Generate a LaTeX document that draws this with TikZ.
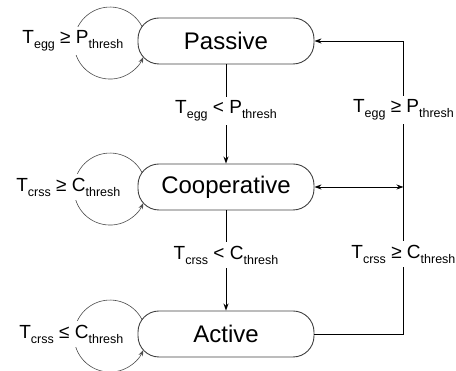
\documentclass[tikz,border=0pt]{standalone}
\usepackage{fontspec}
\setmainfont{Liberation Sans}
\usetikzlibrary{positioning,calc,arrows.meta}
\newcommand{\lo}[1]{\raisebox{-0.5ex}{\fontsize{12.5}{12.5}\selectfont #1}}

\begin{document}
\begin{tikzpicture}[x=1pt,y=1pt,
  state/.style={rectangle, rounded corners=21pt, draw=black!75, line width=0.9pt, minimum width=176pt, minimum height=46pt, font=\fontsize{24}{28}\selectfont},
  cond/.style={fill=white, inner xsep=1pt, inner ysep=4pt, font=\fontsize{19}{22}\selectfont},
  flow/.style={line width=0.9pt, -{Stealth[length=7pt,width=5pt]}},
  selfloop/.style={black!70, line width=0.6pt, -{Stealth[length=6pt,width=4.5pt]}}]
\useasboundingbox (0,0) rectangle (456,371);

\node (passive) [state] at (226,330) {Passive};
\node (coop) [state] at (226,184) {Cooperative};
\node (active) [state] at (226,37) {Active};

% loops on the left side
\foreach \s in {passive,coop,active}
  \draw[selfloop] ([shift={(-83.9,14.3)}]\s.center) arc[start angle=27, end angle=337, radius=36];

\node (pstay) [cond, left=13pt of passive] {T\lo{egg} ≥ P\lo{thresh}};
\node (cstay) [cond, left=16pt of coop] {T\lo{crss} ≥ C\lo{thresh}};
\node (astay) [cond, left=13pt of active] {T\lo{crss} ≤ C\lo{thresh}};

% downward transitions
\draw[flow] (passive) -- node[cond, pos=0.47] {T\lo{egg} < P\lo{thresh}} (coop);
\draw[flow] (coop) -- node[cond, pos=0.445] {T\lo{crss} < C\lo{thresh}} (active);

% return line on the right
\coordinate (rt) at ($(passive.east)+(89,0)$);
\coordinate (rb) at ($(active.east)+(89,0)$);
\draw[flow] (active.east) -- (rb)
  -- node[cond, pos=0.273] {T\lo{crss} ≥ C\lo{thresh}}
     node[cond, pos=0.765] {T\lo{egg} ≥ P\lo{thresh}} (rt)
  -- (passive.east);
\draw[flow, {Stealth[length=7pt,width=5pt]}-{Stealth[length=7pt,width=5pt]}] (coop.east) -- (coop.east -| rt);

\end{tikzpicture}
\end{document}
